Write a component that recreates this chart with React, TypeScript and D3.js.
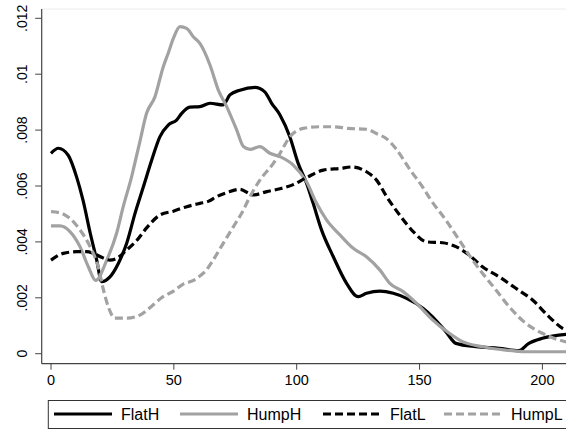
import React from "react";
import * as d3 from "d3";

// ---- data (y in units of 0.001) ----
const flatHX = [0, 3, 7, 10.5, 13, 16, 18.6, 20.6, 24, 27.4, 30.8, 34.2, 37.6, 41, 44.3, 47.7, 51.1, 53.2, 56.5, 60.6, 64.7, 70.1, 72.8, 76.9, 83, 87, 89.8, 93.2, 97.2, 100.6, 104, 106.7, 110.1, 114.9, 120.3, 125, 128.4, 133.9, 139.3, 144.7, 151.5, 155.3, 160.7, 164.8, 173, 182.4, 190.4, 194.5, 200, 211];
const flatHY = [7.17, 7.35, 7.1, 6.3, 5.5, 4.3, 3.35, 2.58, 2.75, 3.23, 3.95, 5.02, 5.97, 6.93, 7.76, 8.18, 8.36, 8.6, 8.82, 8.84, 8.96, 8.9, 9.26, 9.43, 9.53, 9.37, 8.96, 8.54, 7.76, 6.81, 6.1, 5.38, 4.43, 3.47, 2.52, 2.04, 2.16, 2.24, 2.16, 1.98, 1.62, 1.32, 0.79, 0.37, 0.25, 0.19, 0.11, 0.37, 0.55, 0.7];

const humpHX = [0, 3.7, 7.7, 11.8, 15.2, 18.2, 22.7, 26.7, 29.4, 32.8, 36.2, 38.9, 42.3, 45.7, 47.7, 49.8, 52.5, 55.2, 57.9, 60.6, 64.7, 68.1, 71.5, 75.6, 78.3, 81, 85, 89.1, 93.2, 98.6, 104, 108.1, 112.2, 117.6, 123, 128.4, 133.9, 137.9, 143.3, 148.8, 155.3, 162.1, 167.5, 175.6, 185.1, 193.2, 211];
const humpHY = [4.57, 4.57, 4.37, 3.83, 3.11, 2.62, 3.35, 4.31, 5.26, 6.33, 7.6, 8.6, 9.19, 10.27, 10.75, 11.28, 11.7, 11.64, 11.34, 11.1, 10.33, 9.43, 8.84, 8.0, 7.41, 7.31, 7.41, 7.17, 7.05, 6.75, 6.15, 5.38, 4.78, 4.25, 3.77, 3.47, 2.99, 2.52, 2.22, 1.8, 1.21, 0.73, 0.43, 0.25, 0.13, 0.07, 0.07];

const flatLX = [0, 5, 10.5, 14.5, 17.2, 20.6, 24, 26.7, 30.8, 34.9, 38.9, 44.3, 49.8, 55.2, 60.6, 64, 67.4, 71.5, 76.9, 82.3, 87.8, 93.2, 98.6, 104, 110.8, 117.6, 122.3, 128.4, 132.5, 136.6, 142, 147.4, 152.9, 159.4, 164.8, 170.2, 175.6, 182.4, 189.2, 196, 202.7, 208.2, 211];
const flatLY = [3.35, 3.59, 3.65, 3.65, 3.59, 3.45, 3.35, 3.41, 3.71, 4.05, 4.5, 4.96, 5.1, 5.26, 5.38, 5.45, 5.62, 5.76, 5.88, 5.68, 5.8, 5.9, 6.05, 6.3, 6.57, 6.63, 6.68, 6.51, 6.21, 5.62, 4.95, 4.37, 4.0, 3.97, 3.83, 3.53, 3.11, 2.75, 2.34, 1.92, 1.32, 0.91, 0.8];

const humpLX = [0, 3.7, 7.7, 11.8, 15.9, 19.2, 21.3, 23.3, 26, 30.8, 36.2, 41, 45, 50, 54, 58, 60.6, 63.3, 66, 70.1, 74.2, 78.3, 80.3, 85, 90.5, 93.2, 97.2, 102.6, 109.4, 114.9, 121, 128.4, 133, 136.3, 140.5, 146, 151.2, 154.6, 160.7, 166.1, 171.6, 175.6, 181.1, 186.5, 193.2, 200, 206.8, 211];
const humpLY = [5.08, 5.04, 4.84, 4.43, 3.83, 3.11, 2.3, 1.68, 1.27, 1.27, 1.38, 1.7, 2.0, 2.25, 2.5, 2.62, 2.78, 3.0, 3.35, 3.95, 4.54, 5.14, 5.5, 6.21, 6.81, 7.17, 7.76, 8.06, 8.12, 8.12, 8.06, 8.03, 7.85, 7.71, 7.32, 6.6, 5.97, 5.5, 4.78, 4.07, 3.35, 2.88, 2.28, 1.68, 1.09, 0.73, 0.49, 0.4];

const yTicks = [0, 0.002, 0.004, 0.006, 0.008, 0.01, 0.012];
const yTickLabels = ["0", ".002", ".004", ".006", ".008", ".01", ".012"];
const xTicks = [0, 50, 100, 150, 200];

const seriesNames = ["FlatH", "HumpH", "FlatL", "HumpL"];
const GRAY = "#a2a2a2";
const seriesStyle = [
  { color: "#000", dash: "" },
  { color: GRAY, dash: "" },
  { color: "#000", dash: "8 4" },
  { color: GRAY, dash: "8 4" },
];
const legendX = [54, 180, 323, 444];

export default function App() {
  const W = 566, H = 430;
  const x = d3.scaleLinear().domain([0, 200]).range([51, 542.4]);
  const y = d3.scaleLinear().domain([0, 0.012]).range([353.7, 18.3]);
  const axisX = 41.7, axisY = 363.7;

  const series = [
    [flatHX, flatHY],
    [humpHX, humpHY],
    [flatLX, flatLY],
    [humpLX, humpLY],
  ];
  const line = d3
    .line<[number, number]>()
    .x((d) => x(d[0]))
    .y((d) => y(d[1] / 1000))
    .curve(d3.curveMonotoneX);

  const font = "'Liberation Sans', Arial, Helvetica, sans-serif";
  const axisColor = "#444";

  return (
    <svg
      width={W}
      height={H}
      style={{ position: "absolute", left: 0, top: 0, background: "#fff" }}
      fontFamily={font}
    >
      <rect x={0} y={0} width={W} height={H} fill="#fff" />
      {/* faint plot region border top */}
      <line x1={axisX} x2={W} y1={9} y2={9} stroke="#ececec" strokeWidth={1} />
      {/* series */}
      {series.map(([xs, ys], i) => (
        <path
          key={seriesNames[i]}
          d={line(xs.map((v, j) => [v, ys[j]] as [number, number])) || ""}
          fill="none"
          stroke={seriesStyle[i].color}
          strokeWidth={3.2}
          strokeDasharray={seriesStyle[i].dash}
          strokeLinejoin="round"
        />
      ))}
      {/* axes */}
      <line x1={axisX} x2={axisX} y1={9} y2={axisY} stroke={axisColor} strokeWidth={1.2} />
      <line x1={axisX} x2={W} y1={axisY} y2={axisY} stroke={axisColor} strokeWidth={1.2} />
      {yTicks.map((t, i) => (
        <g key={"y" + t}>
          <line x1={axisX - 6.5} x2={axisX} y1={y(t)} y2={y(t)} stroke={axisColor} strokeWidth={1} />
          <text
            transform={`translate(27,${y(t)}) rotate(-90)`}
            textAnchor="middle"
            fontSize={14}
            fill="#000"
          >
            {yTickLabels[i]}
          </text>
        </g>
      ))}
      {xTicks.map((t) => (
        <g key={"x" + t}>
          <line x1={x(t)} x2={x(t)} y1={axisY} y2={axisY + 6} stroke={axisColor} strokeWidth={1} />
          <text x={x(t)} y={385} textAnchor="middle" fontSize={14.5} fill="#000">
            {t}
          </text>
        </g>
      ))}
      {/* legend */}
      <rect x={48.3} y={400.5} width={W} height={28} fill="#fff" stroke="#333" strokeWidth={1} />
      {seriesNames.map((n, i) => (
        <g key={"l" + n}>
          <line
            x1={legendX[i]}
            x2={legendX[i] + 58}
            y1={414}
            y2={414}
            stroke={seriesStyle[i].color}
            strokeWidth={3.2}
            strokeDasharray={seriesStyle[i].dash}
          />
          <text x={legendX[i] + 67} y={420} fontSize={16} fill="#000">
            {n}
          </text>
        </g>
      ))}
    </svg>
  );
}
